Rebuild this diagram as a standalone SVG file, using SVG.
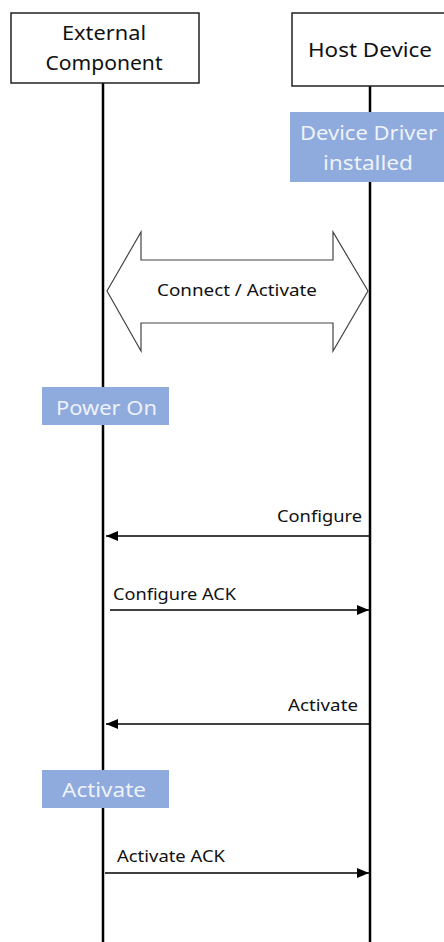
<svg xmlns="http://www.w3.org/2000/svg" width="444" height="942" viewBox="0 0 444 942">
<style>
.hdr{fill:#fff;stroke:#222;stroke-width:1.5}
.life{stroke:#000;stroke-width:2.5}
.state{fill:#8faadc}
.st{font-family:"Noto Sans","Open Sans",sans-serif;font-size:20px;fill:#eef2fa;text-anchor:middle}
.ht{font-family:"Noto Sans","Open Sans",sans-serif;font-size:20px;fill:#111;text-anchor:middle}
.ml{font-family:"Noto Sans","Open Sans",sans-serif;font-size:16px;fill:#111}
.msg{stroke:#000;stroke-width:1.5;fill:none}
</style>
<defs>
<marker id="ah" viewBox="0 0 12 10" refX="12" refY="5" markerWidth="12" markerHeight="10" markerUnits="userSpaceOnUse" orient="auto">
<path d="M0,0 L12,5 L0,10 Z" fill="#000"/>
</marker>
</defs>
<rect width="444" height="942" fill="#fff"/>
<g id="lifelines">
<line class="life" x1="103" y1="83" x2="103" y2="942"/>
<line class="life" x1="370" y1="86" x2="370" y2="942"/>
</g>
<g id="external-component">
<rect class="hdr" x="11" y="13" width="188" height="70"/>
<text class="ht" x="104" y="40" textLength="84" lengthAdjust="spacingAndGlyphs">External</text>
<text class="ht" x="104" y="70" textLength="117" lengthAdjust="spacingAndGlyphs">Component</text>
</g>
<g id="host-device">
<rect class="hdr" x="292" y="13" width="160" height="73"/>
<text class="ht" x="370" y="57" textLength="124" lengthAdjust="spacingAndGlyphs">Host Device</text>
</g>
<g id="device-driver">
<rect class="state" x="290" y="112" width="154" height="70"/>
<text class="st" x="368.5" y="140" textLength="137" lengthAdjust="spacingAndGlyphs">Device Driver</text>
<text class="st" x="368" y="170" textLength="90" lengthAdjust="spacingAndGlyphs">installed</text>
</g>
<g id="connect-activate">
<path d="M107,291 L141,232 L141,260 L333,260 L333,232 L368,291 L333,351 L333,323 L141,323 L141,351 Z" fill="#fff" stroke="#444" stroke-width="1.2"/>
<text class="ml" x="237" y="296" text-anchor="middle" textLength="160" lengthAdjust="spacingAndGlyphs">Connect / Activate</text>
</g>
<g id="power-on">
<rect class="state" x="42" y="387" width="127" height="38"/>
<text class="st" x="106.5" y="415" textLength="101" lengthAdjust="spacingAndGlyphs">Power On</text>
</g>
<g id="activate-state">
<rect class="state" x="42" y="770" width="127" height="38"/>
<text class="st" x="104" y="797" textLength="84" lengthAdjust="spacingAndGlyphs">Activate</text>
</g>
<g id="connectors">
<line class="msg" x1="370" y1="536" x2="106" y2="536" marker-end="url(#ah)"/>
<text class="ml" x="362" y="522" text-anchor="end" textLength="85" lengthAdjust="spacingAndGlyphs">Configure</text>
<line class="msg" x1="110" y1="610" x2="369" y2="610" marker-end="url(#ah)"/>
<text class="ml" x="113" y="600" textLength="123" lengthAdjust="spacingAndGlyphs">Configure ACK</text>
<line class="msg" x1="370" y1="724" x2="106" y2="724" marker-end="url(#ah)"/>
<text class="ml" x="358" y="711" text-anchor="end" textLength="70" lengthAdjust="spacingAndGlyphs">Activate</text>
<line class="msg" x1="105" y1="873" x2="369" y2="873" marker-end="url(#ah)"/>
<text class="ml" x="117" y="862" textLength="108" lengthAdjust="spacingAndGlyphs">Activate ACK</text>
</g>
</svg>
